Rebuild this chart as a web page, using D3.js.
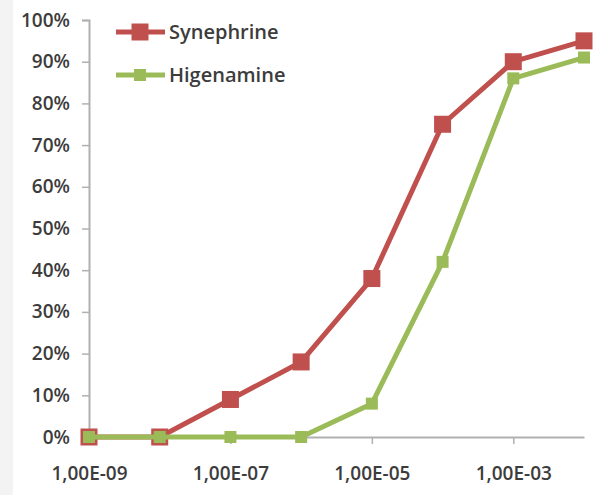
<!DOCTYPE html>
<html><head><meta charset="utf-8">
<script src="https://cdn.jsdelivr.net/npm/d3@7"></script>
<style>body{margin:0;background:#fff}svg{display:block}</style>
</head><body>
<script>
const categories = ["1,00E-09","1,00E-08","1,00E-07","1,00E-06","1,00E-05","1,00E-04","1,00E-03","1,00E-02"];
const synephrine = [0, 0, 9, 18, 38, 75, 90, 95];
const higenamine = [0, 0, 0, 0, 8, 42, 86, 91];
const yTicks = [0,10,20,30,40,50,60,70,80,90,100];
const xLabelCats = ["1,00E-09","1,00E-07","1,00E-05","1,00E-03"];

const W = 604, H = 495;
const svg = d3.select("body").append("svg").attr("width", W).attr("height", H);
svg.append("rect").attr("x",0).attr("y",0).attr("width",13).attr("height",H).attr("fill","#f3f3f3");

const x = d3.scalePoint().domain(categories).range([89, 584]);
const y = d3.scaleLinear().domain([0, 100]).range([437, 20]);
const font = "'Open Sans', sans-serif";
const textColor = "#3c3c3c";
const axisColor = "#b0b0b0";
const fs = 19;

// Y axis
const yAxis = svg.append("g").attr("transform", "translate(89,0)")
  .call(d3.axisLeft(y).tickValues(yTicks).tickSize(7).tickPadding(12).tickFormat(d => d + "%"));
yAxis.select(".domain").attr("stroke", axisColor).attr("stroke-width", 2);
yAxis.selectAll(".tick line").attr("stroke", axisColor).attr("stroke-width", 1.5);
yAxis.selectAll("text").attr("font-family", font).attr("font-size", fs).attr("font-weight", 600).attr("fill", textColor);

// X axis
const xAxis = svg.append("g").attr("transform", "translate(0,437)")
  .call(d3.axisBottom(x).tickValues(xLabelCats).tickSize(7).tickPadding(23).tickSizeOuter(0));
xAxis.select(".domain").attr("stroke", axisColor).attr("stroke-width", 2);
xAxis.selectAll(".tick line").attr("stroke", axisColor).attr("stroke-width", 1.5);
xAxis.selectAll("text").attr("font-family", font).attr("font-size", fs).attr("font-weight", 600).attr("fill", textColor);

const red = "#c0504d", green = "#9bbb59";
const line = d3.line().x((d, i) => x(categories[i])).y(d => y(d));

function drawSeries(data, color, size) {
  svg.append("path").datum(data).attr("d", line)
    .attr("fill", "none").attr("stroke", color).attr("stroke-width", 5).attr("stroke-linejoin", "round");
  svg.append("g").selectAll("rect").data(data).join("rect")
    .attr("x", (d, i) => x(categories[i]) - size / 2)
    .attr("y", d => y(d) - size / 2)
    .attr("width", size).attr("height", size)
    .attr("fill", color);
}
drawSeries(synephrine, red, 17);
drawSeries(higenamine, green, 12);

// Legend
const legend = [{name: "Synephrine", color: red, size: 17, y: 32}, {name: "Higenamine", color: green, size: 12, y: 75}];
const lg = svg.append("g");
legend.forEach(l => {
  lg.append("line").attr("x1", 116).attr("x2", 165).attr("y1", l.y).attr("y2", l.y)
    .attr("stroke", l.color).attr("stroke-width", 5);
  lg.append("rect").attr("x", 140 - l.size / 2).attr("y", l.y - l.size / 2)
    .attr("width", l.size).attr("height", l.size).attr("fill", l.color);
  lg.append("text").attr("x", 169).attr("y", l.y).attr("dy", "0.35em")
    .attr("font-family", font).attr("font-size", fs + 1).attr("font-weight", 600).attr("fill", textColor).text(l.name);
});
</script>
</body></html>
